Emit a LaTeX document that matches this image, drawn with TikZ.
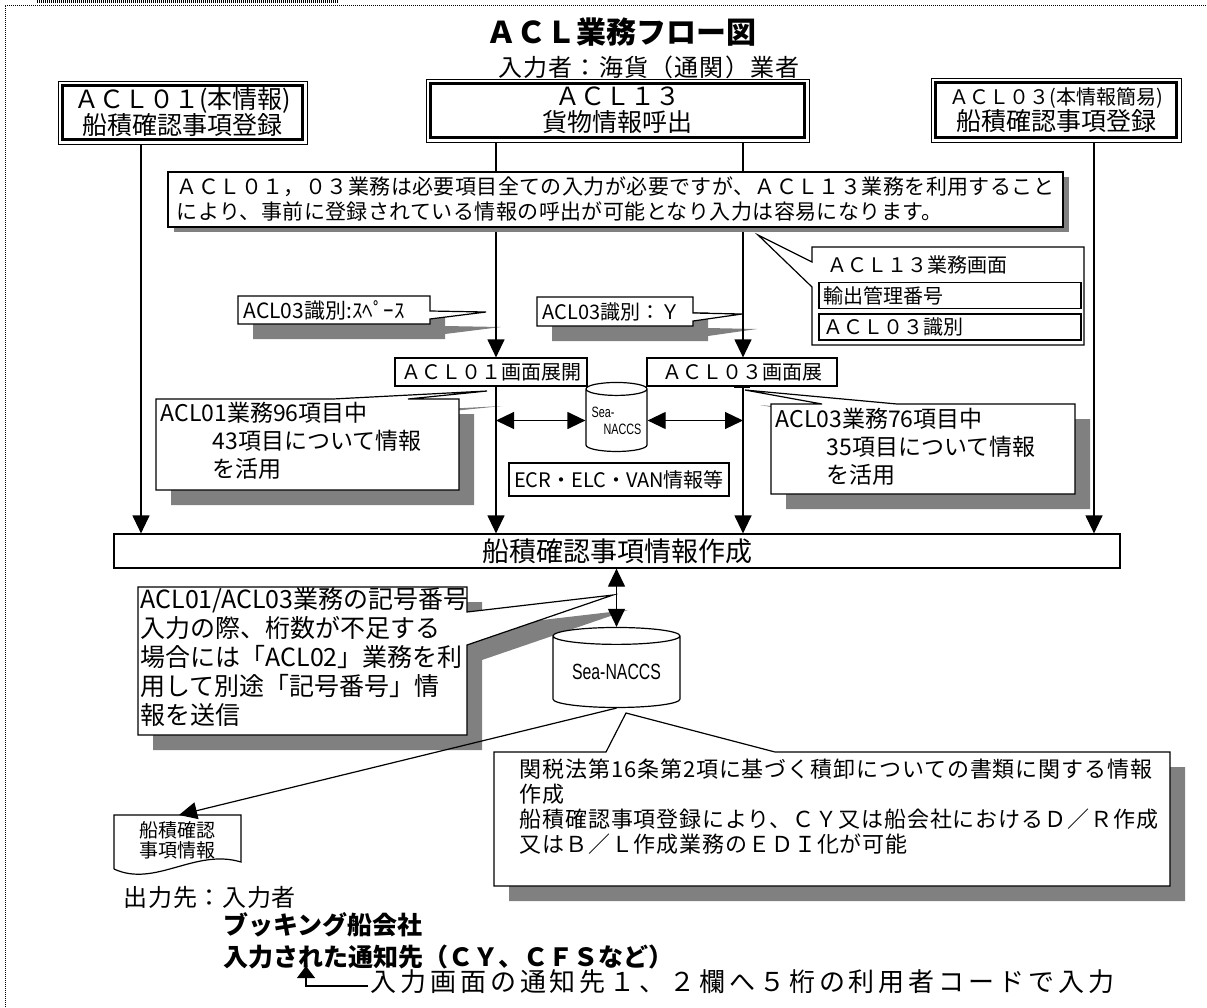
\documentclass[tikz,border=0pt]{standalone}
\usepackage{fontspec}
\setmainfont{Noto Sans CJK JP}
\newfontfamily\narrowsans[FakeStretch=0.72]{Liberation Sans}
\usetikzlibrary{arrows.meta,shapes.geometric,shadows}
\begin{document}
\begin{tikzpicture}[x=1pt, y=-1pt, line width=1.2pt,
  arr/.style={-{Triangle[length=18pt,width=17pt]}},
  arrs/.style={-{Triangle[length=12pt,width=18pt]}},
  dbl/.style={{Triangle[length=18pt,width=17pt]}-{Triangle[length=18pt,width=17pt]}},
  headbox/.style={draw, line width=1pt, fill=white, align=center, inner sep=0pt,
    font=\fontsize{25}{26}\selectfont},
  plain/.style={draw, fill=white, inner sep=0pt},
  field/.style={draw, line width=1.5pt, minimum height=26pt, text width=254pt,
    inner xsep=4pt, inner ysep=0pt, align=left, font=\fontsize{20}{22}\selectfont},
  shadowed/.style={draw, fill=white,
    preaction={fill=black!50, transform canvas={xshift=15pt, yshift=-15pt}}},
  db/.style={draw, fill=white, cylinder, shape border rotate=90, inner sep=0pt},
  txt/.style={inner sep=0pt, align=left},
  f20/.style={font=\fontsize{20}{22}\selectfont},
  f21/.style={font=\fontsize{21}{25}\selectfont},
  f23/.style={font=\fontsize{23}{28}\selectfont},
  f25/.style={font=\fontsize{25}{29}\selectfont},
  bf25/.style={font=\fontsize{25}{28}\selectfont\bfseries}]
  \useasboundingbox (0,0) rectangle (1207,1007);
  \draw[line width=0.8pt, dash pattern=on 0.8pt off 1.2pt] (5,1007) -- (5,5) -- (1207,5);
  \draw[line width=2.5pt, dash pattern=on 1pt off 1pt] (37,1.5) -- (338,1.5);

  \draw[fill=white] (812,247) -- (1084,247) -- (1084,345) -- (812,345) -- (812,287) -- (758,235) -- (812,262) -- cycle;
  \draw[shadowed] (238,296) -- (430,296) -- (430,311) -- (486,312) -- (430,319) -- (430,324) -- (238,324) -- cycle;
  \draw[shadowed] (537,297) -- (693,297) -- (693,313) -- (742,314) -- (693,321) -- (693,326) -- (537,326) -- cycle;
  \draw[shadowed] (156,399) -- (333,399) -- (487,391) -- (408,399) -- (459,399) -- (459,490) -- (156,490) -- cycle;
  \draw[shadowed] (771,404) -- (822,404) -- (745,390) -- (897,404) -- (1075,404) -- (1075,494) -- (771,494) -- cycle;
  \draw[shadowed] (138,587) -- (467,587) -- (467,612) -- (613,595) -- (467,645) -- (467,735) -- (138,735) -- cycle;
  \draw[shadowed] (494,752) -- (606,752) -- (626,713) -- (775,752) -- (1170,752) -- (1170,886) -- (494,886) -- cycle;

  \node[font=\fontsize{30}{32}\selectfont\bfseries] (title) at (621,32) {ＡＣＬ業務フロー図};
  \node[font=\fontsize{24}{26}\selectfont\addfontfeature{LetterSpace=5}] (who) at (649,67) {入力者：海貨（通関）業者};

  \node[headbox, minimum width=249pt, minimum height=63pt] (a01) at (182.5,112.5) {ＡＣＬ０１(本情報)\\船積確認事項登録};
  \node[headbox, minimum width=383pt, minimum height=63pt] (a13) at (617.5,110.5) {ＡＣＬ１３\\貨物情報呼出};
  \node[headbox, minimum width=250pt, minimum height=64pt] (a03) at (1056,110) {{\fontsize{20}{22}\selectfont ＡＣＬ０３(本情報簡易)}\\船積確認事項登録};
  \draw[line width=2.5pt] ([shift={(5,5)}]a01.north west) rectangle ([shift={(-5,-5)}]a01.south east);
  \draw[line width=2.5pt] ([shift={(5,5)}]a13.north west) rectangle ([shift={(-5,-5)}]a13.south east);
  \draw[line width=2.5pt] ([shift={(5,5)}]a03.north west) rectangle ([shift={(-5,-5)}]a03.south east);

  \node[txt, anchor=west, f20] (scrttl) at (827,265) {ＡＣＬ１３業務画面};
  \node[field] (expno) at (950,295.5) {輸出管理番号};
  \node[field] (idf) at (950,327) {ＡＣＬ０３識別};

  \node[txt, anchor=west, f21] (idsp) at (243,310) {ACL03識別:ｽﾍﾟｰｽ};
  \node[txt, anchor=west, f20] (idy) at (542,312) {ACL03識別：Ｙ};
  \node[txt, anchor=north west, f23] (c01) at (160,402) {ACL01業務96項目中\\\hspace*{52pt}43項目について情報\\\hspace*{52pt}を活用};
  \node[txt, anchor=north west, f23] (c03) at (775,408) {ACL03業務76項目中\\\hspace*{51pt}35項目について情報\\\hspace*{51pt}を活用};
  \node[txt, anchor=north west, f25] (c02) at (140,587) {ACL01/ACL03業務の記号番号\\入力の際、桁数が不足する\\場合には「ACL02」業務を利\\用して別途「記号番号」情\\報を送信};
  \node[txt, anchor=north west, font=\fontsize{22}{25}\selectfont\addfontfeature{LetterSpace=4}] (law) at (519,758) {関税法第16条第2項に基づく積卸についての書類に関する情報\\作成\\船積確認事項登録により、ＣＹ又は船会社におけるＤ／Ｒ作成\\又はＢ／Ｌ作成業務のＥＤＩ化が可能};

  \node[plain, minimum width=192pt, minimum height=28pt, f20] (scr01) at (491,372) {ＡＣＬ０１画面展開};
  \node[plain, minimum width=190pt, minimum height=28pt, f20] (scr03) at (742,372) {ＡＣＬ０３画面展};
  \node[db, minimum width=61pt, minimum height=69pt, aspect=0.26, align=left,
    font=\fontsize{15}{17}\narrowsans] (cyl1) at (616.5,420.5) {Sea-\\\hspace*{12pt}NACCS};
  \node[plain, minimum width=220pt, minimum height=33pt, f20] (ecr) at (619,479.5) {ECR・ELC・VAN情報等};
  \node[plain, minimum width=1006pt, minimum height=34pt, font=\fontsize{27}{29}\selectfont] (fin) at (617,551) {船積確認事項情報作成};
  \node[db, minimum width=127pt, minimum height=80pt, aspect=0.19,
    font=\fontsize{22}{24}\narrowsans] (cyl2) at (616.5,672) {Sea-NACCS};

  \draw (114,869) -- (114,815) -- (241,815) -- (241,862) .. controls (195,848) and (155,888) .. (114,869);
  \node[txt, align=center, font=\fontsize{19}{20}\selectfont] (doc) at (177.5,840) {船積確認\\事項情報};
  \coordinate (docin) at (179,815);

  \node[txt, anchor=west, font=\fontsize{24}{26}\selectfont\addfontfeature{LetterSpace=3}] (out0) at (123,897) {出力先：入力者};
  \node[txt, anchor=west, bf25] (out1) at (223,925) {ブッキング船会社};
  \node[txt, anchor=west, bf25] (out2) at (223,957) {入力された通知先（ＣＹ、ＣＦＳなど）};
  \node[txt, anchor=west, font=\fontsize{26}{28}\selectfont\addfontfeature{LetterSpace=15}] (memo) at (370,982) {入力画面の通知先１、２欄へ５桁の利用者コードで入力};

  \coordinate (ln1) at (141,0);
  \coordinate (ln2) at (496,0);
  \coordinate (ln3) at (743,0);
  \coordinate (ln4) at (1094,0);
  \coordinate (k0) at (368,986);
  \coordinate (k1) at (306,966);

  \draw[arr] (a01.south -| ln1) -- (fin.north -| ln1);
  \draw[arr] (a13.south -| ln2) -- (scr01.north -| ln2);
  \draw[arr] (a13.south -| ln3) -- (scr03.north -| ln3);
  \draw[arr] (scr01.south -| ln2) -- (fin.north -| ln2);
  \draw[arr] (scr03.south -| ln3) -- (fin.north -| ln3);
  \draw[arr] (a03.south -| ln4) -- (fin.north -| ln4);
  \draw[line width=2.5pt] ([xshift=-9pt]scr03.south -| ln3) -- ([xshift=7pt]scr03.south -| ln3);
  \draw[dbl] (ln2 |- cyl1.west) -- (cyl1.west);
  \draw[dbl] (cyl1.east) -- (ln3 |- cyl1.east);
  \draw[dbl] (fin.south -| cyl2.north) -- (cyl2.north);
  \draw[arr] (cyl2.south) -- (docin);
  \draw[arrs] (k0) -| (k1);

  \node[draw, fill=white, minimum width=895pt, minimum height=55pt, align=left,
    drop shadow={shadow xshift=6pt, shadow yshift=-5pt, fill=black!50, opacity=1},
    font=\fontsize{21}{25}\selectfont\addfontfeature{LetterSpace=2}] (note) at (615.5,199.5)
    {ＡＣＬ０１，０３業務は必要項目全ての入力が必要ですが、ＡＣＬ１３業務を利用すること\\により、事前に登録されている情報の呼出が可能となり入力は容易になります。};
\end{tikzpicture}
\end{document}
